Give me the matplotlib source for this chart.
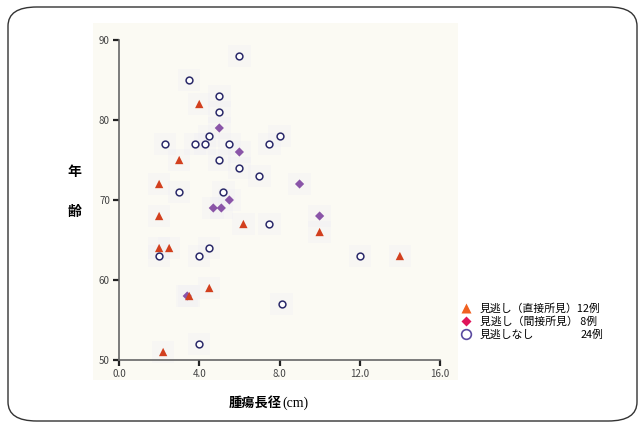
import matplotlib
matplotlib.use("Agg")
import matplotlib.pyplot as plt
from matplotlib.lines import Line2D
from matplotlib.patches import FancyBboxPatch, Rectangle

plt.rcParams['font.family'] = ['Noto Sans CJK JP', 'DejaVu Sans']

# 見逃し（直接所見）
direct_x = [4.0, 3.0, 2.0, 2.0, 2.0, 2.5, 6.2, 3.5, 4.5, 2.2, 10.0, 14.0]
direct_y = [82, 75, 72, 68, 64, 64, 67, 58, 59, 51, 66, 63]
# 見逃し（間接所見）
indirect_x = [5.0, 6.0, 9.0, 5.5, 4.7, 5.1, 3.4, 10.0]
indirect_y = [79, 76, 72, 70, 69, 69, 58, 68]
# 見逃しなし
none_x = [6.0, 3.5, 5.0, 5.0, 4.5, 8.0, 2.3, 3.8, 4.3, 5.5, 7.5, 5.0,
          6.0, 7.0, 3.0, 5.2, 2.0, 4.0, 4.5, 7.5, 8.1, 4.0, 12.0]
none_y = [88, 85, 83, 81, 78, 78, 77, 77, 77, 77, 77, 75,
          74, 73, 71, 71, 63, 63, 64, 67, 57, 52, 63]

legend_labels = ["見逃し（直接所見）12例", "見逃し（間接所見） 8例", "見逃しなし"]
none_count = "24例"

x_ticks = [0, 4, 8, 12, 16]
y_ticks = [50, 60, 70, 80, 90]

fig = plt.figure(figsize=(6.39, 4.23), dpi=100)

# rounded frame and pale plot backdrop
fig.patches.append(FancyBboxPatch((8 / 639, 2 / 423), 629 / 639, 414 / 423,
                                  boxstyle="round,pad=0,rounding_size=0.045",
                                  transform=fig.transFigure, fill=False,
                                  edgecolor="#333333", linewidth=1.0, zorder=-2))
fig.patches.append(Rectangle((93 / 639, 1 - 380 / 423), 365 / 639, 357 / 423,
                             transform=fig.transFigure, facecolor="#fbfaf3",
                             edgecolor="none", zorder=-1))

ax = fig.add_axes([119 / 639, 1 - 360 / 423, 321 / 639, 320 / 423])
ax.set_facecolor("none")

# faint halos behind points
all_x = direct_x + indirect_x + none_x
all_y = direct_y + indirect_y + none_y
ax.scatter(all_x, all_y, marker="s", s=260, color="#eeeef3", alpha=0.3,
           edgecolors="none", zorder=1, clip_on=False)

ax.scatter(indirect_x, indirect_y, marker="D", s=22, color="#8a55a8",
           edgecolors="none", zorder=2, clip_on=False)
ax.scatter(direct_x, direct_y, marker="^", s=36, color="#d2401e",
           edgecolors="none", zorder=3, clip_on=False)
ax.scatter(none_x, none_y, marker="o", s=24, facecolors="white",
           edgecolors="#2b2a6a", linewidths=1.1, zorder=4, clip_on=False)

ax.set_xlim(0, 16)
ax.set_ylim(50, 90)
ax.set_xticks(x_ticks)
ax.set_xticklabels([f"{v:.1f}" for v in x_ticks])
ax.set_yticks(y_ticks)
ax.set_yticklabels([str(v) for v in y_ticks])
ax.tick_params(length=4.5, width=1.6, color="#222222", labelsize=7,
               labelcolor="#444444", pad=2)
for side in ["top", "right"]:
    ax.spines[side].set_visible(False)
for side in ["left", "bottom"]:
    ax.spines[side].set_color("#666666")
    ax.spines[side].set_linewidth(1.2)

# axis titles
fig.text(74 / 639, 1 - 172 / 423, "年", fontsize=10, fontweight="bold",
         ha="center", va="center")
fig.text(74 / 639, 1 - 212 / 423, "齢", fontsize=10, fontweight="bold",
         ha="center", va="center")
fig.text(282 / 639, 1 - 403 / 423, "腫瘍長径", fontsize=9.5, fontweight="bold",
         ha="right", va="center")
fig.text(282 / 639, 1 - 403 / 423, "(cm)", fontsize=10, family="Liberation Serif",
         ha="left", va="center")

# legend
handles = [
    Line2D([], [], marker="^", linestyle="none", markersize=7,
           color="#f06020", markeredgecolor="none"),
    Line2D([], [], marker="D", linestyle="none", markersize=5.5,
           color="#e0155a", markeredgecolor="none"),
    Line2D([], [], marker="o", linestyle="none", markersize=7,
           markerfacecolor="white", markeredgecolor="#5a4aa0", markeredgewidth=1.2),
]
fig.legend(handles, legend_labels, loc="upper left",
           bbox_to_anchor=(455 / 639, 1 - 298 / 423), frameon=False,
           fontsize=7.8, handletextpad=0.8, labelspacing=0.25,
           handlelength=1.0, borderpad=0)
fig.text(603 / 639, 1 - 335 / 423, none_count, fontsize=7.8,
         ha="right", va="center")

fig.savefig("out.png", dpi=100)
